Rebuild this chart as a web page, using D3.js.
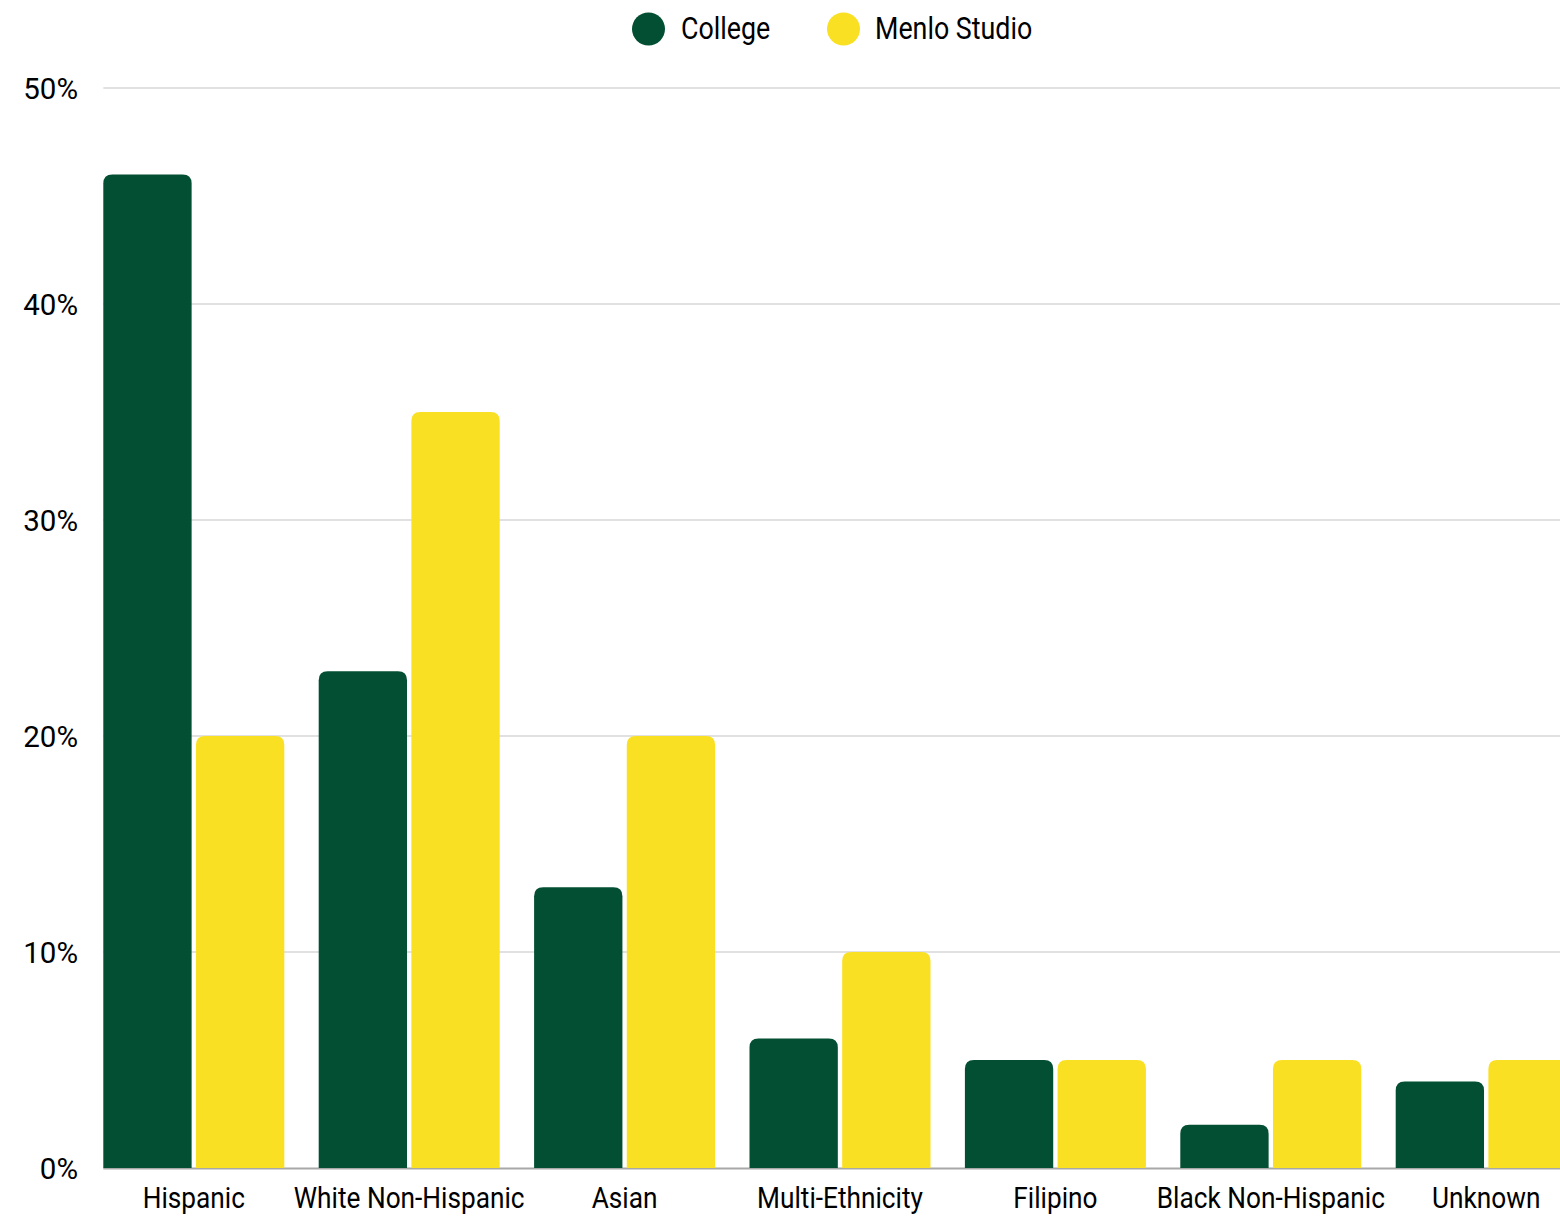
<!DOCTYPE html>
<html>
<head>
<meta charset="utf-8">
<script src="https://cdn.jsdelivr.net/npm/d3@7"></script>
<style>
  html, body { margin: 0; padding: 0; background: #fff; overflow: hidden; }
  svg { display: block; }
  text { font-family: Roboto, "Liberation Sans", sans-serif; fill: #000; }
</style>
</head>
<body>
<svg id="chart" width="1560" height="1217"></svg>
<script>
const categories = ["Hispanic", "White Non-Hispanic", "Asian", "Multi-Ethnicity", "Filipino", "Black Non-Hispanic", "Unknown"];
const seriesNames = ["College", "Menlo Studio"];
const collegeValues = [46, 23, 13, 6, 5, 2, 4];
const menloValues = [20, 35, 20, 10, 5, 5, 5];
const yTicks = [0, 10, 20, 30, 40, 50];
const colors = ["#034f33", "#fae022"];

const W = 1560, H = 1217;
const svg = d3.select("#chart");
const plotLeft = 103.3, plotTop = 88, plotBottom = 1168;
const step = 215.4, gap = 34.4;

const x0 = d3.scaleBand()
  .domain(categories)
  .range([plotLeft, plotLeft + 7 * step - gap])
  .paddingInner(gap / step)
  .paddingOuter(0);

const x1 = d3.scaleBand()
  .domain(seriesNames)
  .range([0, x0.bandwidth()])
  .paddingInner(0.047)
  .paddingOuter(0);

const y = d3.scaleLinear().domain([0, 50]).range([plotBottom, plotTop]);

// gridlines
svg.append("g").selectAll("line")
  .data(yTicks.filter(d => d > 0))
  .join("line")
  .attr("x1", plotLeft).attr("x2", W)
  .attr("y1", d => y(d)).attr("y2", d => y(d))
  .attr("stroke", "#c4c4c4").attr("stroke-width", 1.2);

// baseline
svg.append("line")
  .attr("x1", plotLeft).attr("x2", W)
  .attr("y1", y(0) + 0.5).attr("y2", y(0) + 0.5)
  .attr("stroke", "#a8a8a8").attr("stroke-width", 2);

// y labels
svg.append("g").selectAll("text")
  .data(yTicks)
  .join("text")
  .attr("x", 78)
  .attr("y", d => y(d) + 11)
  .attr("text-anchor", "end")
  .attr("font-size", 29.5)
  .text(d => d + "%");

// bars
const data = categories.map((c, i) => ({
  cat: c,
  vals: [
    { key: seriesNames[0], v: collegeValues[i], color: colors[0] },
    { key: seriesNames[1], v: menloValues[i], color: colors[1] }
  ]
}));

function topRounded(x, yTop, w, h, r) {
  r = Math.min(r, w / 2, h);
  return `M${x},${yTop + h} V${yTop + r} Q${x},${yTop} ${x + r},${yTop} H${x + w - r} Q${x + w},${yTop} ${x + w},${yTop + r} V${yTop + h} Z`;
}

const groups = svg.append("g").selectAll("g")
  .data(data)
  .join("g")
  .attr("transform", d => `translate(${x0(d.cat)},0)`);

groups.selectAll("path")
  .data(d => d.vals)
  .join("path")
  .attr("fill", d => d.color)
  .attr("d", d => topRounded(x1(d.key), y(d.v), x1.bandwidth(), y(0) - y(d.v), 9));

// x labels (condensed look)
svg.append("g").selectAll("text")
  .data(categories)
  .join("text")
  .attr("transform", d => `translate(${x0(d) + x0.bandwidth() / 2},1208) scale(0.905,1)`)
  .attr("text-anchor", "middle")
  .attr("font-size", 29)
  .text(d => d);

// legend
const legend = svg.append("g");
const legendItems = [
  { name: seriesNames[0], color: colors[0], cx: 648.5, tx: 681 },
  { name: seriesNames[1], color: colors[1], cx: 843.5, tx: 875 }
];
legendItems.forEach(it => {
  legend.append("circle").attr("cx", it.cx).attr("cy", 29).attr("r", 16.5).attr("fill", it.color);
  legend.append("text")
    .attr("transform", `translate(${it.tx},39) scale(0.865,1)`)
    .attr("font-size", 31)
    .text(it.name);
});
</script>
</body>
</html>
